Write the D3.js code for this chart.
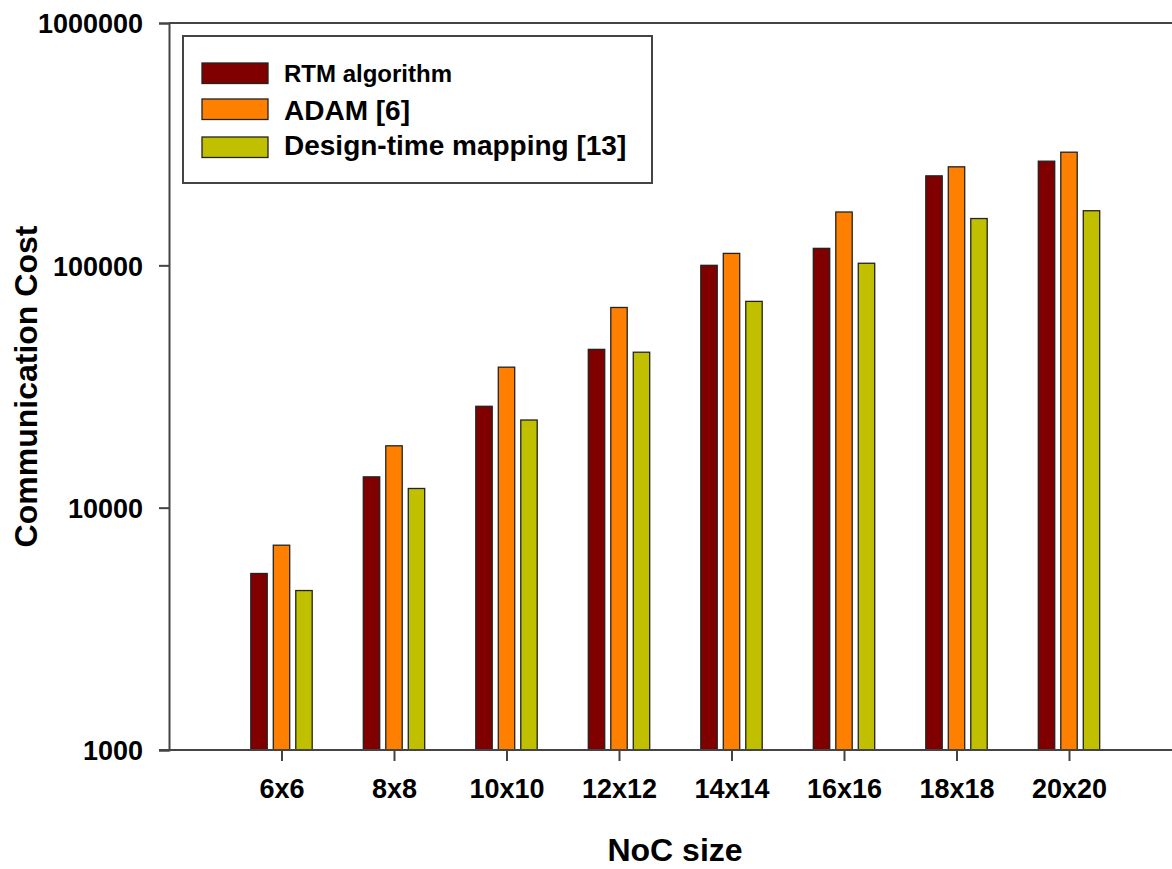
<!DOCTYPE html>
<html>
<head>
<meta charset="utf-8">
<script src="https://cdn.jsdelivr.net/npm/d3@7"></script>
<style>
  body { margin: 0; background: #fff; }
  svg text { font-family: Arial, "Liberation Sans", sans-serif; font-weight: bold; fill: #000; }
</style>
</head>
<body>
<div id="chart"></div>
<script>
// data
const categories = ["6x6", "8x8", "10x10", "12x12", "14x14", "16x16", "18x18", "20x20"];
const seriesNames = ["RTM algorithm", "ADAM [6]", "Design-time mapping [13]"];
const seriesColors = ["#800000", "#ff8000", "#c0c000"];
const rtmValues = [5350, 13400, 26200, 45000, 100000, 117500, 234000, 269000];
const adamValues = [7000, 18000, 38000, 67000, 112000, 166000, 255000, 293000];
const designValues = [4550, 12000, 23000, 43800, 71000, 102000, 156000, 168000];
const yTicks = [1000, 10000, 100000, 1000000];

const allSeries = [rtmValues, adamValues, designValues];

const width = 1172, height = 869;
const plotLeft = 169, plotTop = 23, plotBottom = 750, plotRight = 1181.5;

const svg = d3.select("#chart")
    .append("svg")
    .attr("width", width)
    .attr("height", height);

const x = d3.scalePoint()
    .domain(categories)
    .range([plotLeft, plotRight])
    .padding(1);

const xs = d3.scaleBand()
    .domain(seriesNames)
    .range([-30.7, 30.7])
    .paddingInner(0.27);

const y = d3.scaleLog()
    .domain([1000, 1000000])
    .range([plotBottom, plotTop]);

// bars
const groups = svg.append("g")
    .selectAll("g")
    .data(categories)
    .enter().append("g")
    .attr("transform", d => "translate(" + x(d) + ",0)");

groups.selectAll("rect")
    .data((d, i) => allSeries.map((s, k) => ({ name: seriesNames[k], value: s[i], k: k })))
    .enter().append("rect")
    .attr("x", d => xs(d.name))
    .attr("width", xs.bandwidth())
    .attr("y", d => y(d.value))
    .attr("height", d => plotBottom - y(d.value))
    .attr("fill", d => seriesColors[d.k])
    .attr("stroke", "#222")
    .attr("stroke-width", 1.3);

// top frame line
svg.append("line")
    .attr("x1", plotLeft).attr("x2", width)
    .attr("y1", plotTop).attr("y2", plotTop)
    .attr("stroke", "#444").attr("stroke-width", 2);

// y axis
const yAxis = svg.append("g")
    .attr("transform", "translate(" + plotLeft + ",0)")
    .call(d3.axisLeft(y).tickValues(yTicks).tickFormat(d3.format("d")).tickSize(10).tickPadding(16));
yAxis.select(".domain").attr("stroke", "#444").attr("stroke-width", 2);
yAxis.selectAll(".tick line").attr("stroke", "#444").attr("stroke-width", 2);
yAxis.selectAll("text").attr("font-size", 27).attr("dy", "0.36em");

// x axis
const xAxis = svg.append("g")
    .attr("transform", "translate(0," + plotBottom + ")")
    .call(d3.axisBottom(x).tickSize(11).tickPadding(18).tickSizeOuter(0));
xAxis.select(".domain").attr("d", "M" + (plotLeft - 10) + ",0H" + width)
    .attr("stroke", "#444").attr("stroke-width", 2);
xAxis.selectAll(".tick line").attr("stroke", "#444").attr("stroke-width", 2);
xAxis.selectAll("text").attr("font-size", 27);

// axis titles
svg.append("text")
    .attr("x", 675).attr("y", 861)
    .attr("text-anchor", "middle")
    .attr("font-size", 32)
    .text("NoC size");

svg.append("text")
    .attr("transform", "translate(37," + ((plotTop + plotBottom) / 2) + ") rotate(-90)")
    .attr("text-anchor", "middle")
    .attr("font-size", 32)
    .text("Communication Cost");

// legend
const legend = svg.append("g");
legend.append("rect")
    .attr("x", 183).attr("y", 36)
    .attr("width", 469).attr("height", 147)
    .attr("fill", "#fff")
    .attr("stroke", "#444").attr("stroke-width", 2);

const swatchY = [63, 99, 137];
const labelY = [82, 120, 155];
const labelSize = [24, 28, 28];
seriesNames.forEach(function(name, k) {
    legend.append("rect")
        .attr("x", 202).attr("y", swatchY[k])
        .attr("width", 66).attr("height", 20.5)
        .attr("fill", seriesColors[k])
        .attr("stroke", "#222").attr("stroke-width", 1.3);
    legend.append("text")
        .attr("x", 284).attr("y", labelY[k])
        .attr("font-size", labelSize[k])
        .text(name);
});
</script>
</body>
</html>
